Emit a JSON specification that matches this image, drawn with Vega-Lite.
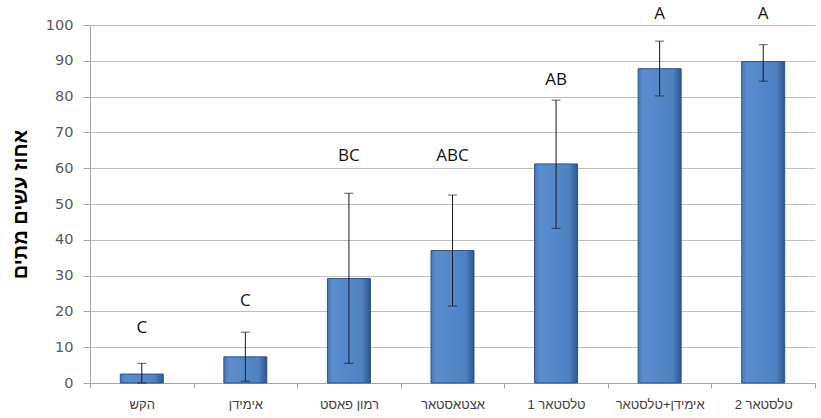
{
  "$schema": "https://vega.github.io/schema/vega-lite/v6.json",
  "width": 725,
  "height": 358,
  "autosize": "none",
  "padding": {"left": 90, "top": 25, "right": 6, "bottom": 35},
  "background": "white",
  "config": {
    "view": {"stroke": null},
    "axisY": {
      "labelFont": "DejaVu Sans",
      "labelFontSize": 14.5,
      "labelColor": "#595959",
      "labelPadding": 10,
      "tickSize": 7,
      "tickColor": "#a6a6a6",
      "domainColor": "#a6a6a6",
      "gridColor": "#c0c0c0",
      "gridWidth": 1,
      "titleFont": "Liberation Sans",
      "titleFontSize": 20,
      "titleFontWeight": "bold",
      "titleColor": "#000000"
    }
  },
  "data": {
    "values": [
      {"t": "הקש", "v": 2.5, "lo": 0, "hi": 5.5, "lab": "C", "ly": 15.5},
      {"t": "אימידן", "v": 7.3, "lo": 0.5, "hi": 14.2, "lab": "C", "ly": 23},
      {"t": "רמון פאסט", "v": 29.2, "lo": 5.5, "hi": 53, "lab": "BC", "ly": 63.5},
      {"t": "אצטאסטאר", "v": 37, "lo": 21.5, "hi": 52.5, "lab": "ABC", "ly": 63.5},
      {"t": "טלסטאר 1", "v": 61.2, "lo": 43.2, "hi": 79, "lab": "AB", "ly": 84.5},
      {"t": "אימידן+טלסטאר", "v": 87.8, "lo": 80.2, "hi": 95.5, "lab": "A", "ly": 103},
      {"t": "טלסטאר 2", "v": 89.8, "lo": 84.3, "hi": 94.5, "lab": "A", "ly": 103}
    ]
  },
  "encoding": {
    "x": {
      "field": "t",
      "type": "nominal",
      "sort": null,
      "scale": {"paddingInner": 0, "paddingOuter": 0},
      "axis": {
        "title": null,
        "labelAngle": 0,
        "labelFont": "Liberation Sans",
        "labelFontSize": 13,
        "labelColor": "#404040",
        "labelPadding": 10,
        "tickBand": "extent",
        "tickSize": 5,
        "tickColor": "#a6a6a6",
        "domainColor": "#a6a6a6",
        "grid": false
      }
    }
  },
  "layer": [
    {
      "mark": {
        "type": "bar",
        "size": 43,
        "stroke": "#2f5586",
        "strokeWidth": 1,
        "color": {
          "x1": 0, "y1": 0, "x2": 1, "y2": 0,
          "gradient": "linear",
          "stops": [
            {"offset": 0, "color": "#4677b8"},
            {"offset": 0.12, "color": "#5a8dd0"},
            {"offset": 0.8, "color": "#4f82c3"},
            {"offset": 1, "color": "#2d5690"}
          ]
        }
      },
      "encoding": {
        "y": {
          "field": "v",
          "type": "quantitative",
          "scale": {"domain": [0, 100]},
          "axis": {
            "values": [0, 10, 20, 30, 40, 50, 60, 70, 80, 90, 100],
            "title": "אחוז עשים מתים",
            "titleX": -70,
            "titleY": 179,
            "titleAlign": "center",
            "titleBaseline": "middle"
          }
        }
      }
    },
    {
      "mark": {"type": "rule", "color": "#1a1a1a", "strokeWidth": 1},
      "encoding": {
        "y": {
          "field": "lo",
          "type": "quantitative",
          "axis": {
            "values": [0, 10, 20, 30, 40, 50, 60, 70, 80, 90, 100],
            "title": "אחוז עשים מתים",
            "titleX": -70,
            "titleY": 179,
            "titleAlign": "center",
            "titleBaseline": "middle"
          }
        },
        "y2": {"field": "hi"}
      }
    },
    {
      "mark": {"type": "tick", "color": "#1a1a1a", "size": 9, "thickness": 1},
      "encoding": {
        "y": {
          "field": "hi",
          "type": "quantitative",
          "axis": {
            "values": [0, 10, 20, 30, 40, 50, 60, 70, 80, 90, 100],
            "title": "אחוז עשים מתים",
            "titleX": -70,
            "titleY": 179,
            "titleAlign": "center",
            "titleBaseline": "middle"
          }
        }
      }
    },
    {
      "mark": {"type": "tick", "color": "#1a1a1a", "size": 9, "thickness": 1},
      "encoding": {
        "y": {
          "field": "lo",
          "type": "quantitative",
          "axis": {
            "values": [0, 10, 20, 30, 40, 50, 60, 70, 80, 90, 100],
            "title": "אחוז עשים מתים",
            "titleX": -70,
            "titleY": 179,
            "titleAlign": "center",
            "titleBaseline": "middle"
          }
        }
      }
    },
    {
      "mark": {"type": "text", "font": "Open Sans", "fontSize": 17, "color": "#111111", "baseline": "middle"},
      "encoding": {
        "y": {
          "field": "ly",
          "type": "quantitative",
          "axis": {
            "values": [0, 10, 20, 30, 40, 50, 60, 70, 80, 90, 100],
            "title": "אחוז עשים מתים",
            "titleX": -70,
            "titleY": 179,
            "titleAlign": "center",
            "titleBaseline": "middle"
          }
        },
        "text": {"field": "lab"}
      }
    }
  ]
}
